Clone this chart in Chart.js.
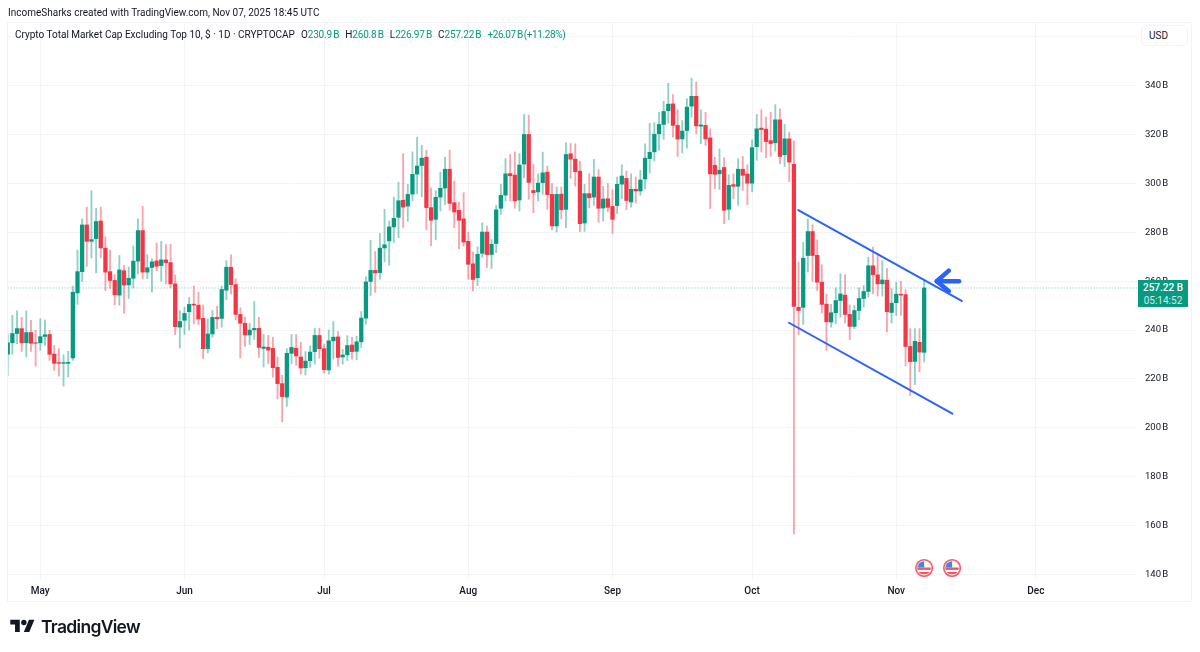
<!DOCTYPE html>
<html>
<head>
<meta charset="utf-8">
<title>Crypto Total Market Cap Excluding Top 10</title>
<script src="https://cdn.jsdelivr.net/npm/chart.js"></script>
<style>
	html, body { margin: 0; padding: 0; background: #fff; }
	body { width: 1200px; height: 652px; position: relative; overflow: hidden; font-family: Roboto, sans-serif; color: #131722; }
	canvas { position: absolute; left: 0; top: 0; }
	.abs { position: absolute; white-space: nowrap; }
	.credit { left: 8px; top: 5px; font-size: 10px; line-height: 15px; }
	.legend { left: 15px; top: 27px; font-size: 10px; line-height: 15px; }
	.legend b { font-weight: 400; color: #089981; letter-spacing: -.2px; word-spacing: -1px; }
	.legend b.change { letter-spacing: -.4px; }
	.legend i { font-style: normal; margin-left: 6px; }
	.usd { left: 1141px; top: 25px; width: 47px; height: 21px; box-sizing: border-box; background: #fff; border: 1px solid #f0f3fa; border-radius: 5px; font-size: 10px; line-height: 19px; padding-left: 7px; }
	.tag { left: 1138px; top: 280px; width: 50px; height: 27px; background: #089981; color: #fff; font-size: 10px; line-height: 13px; text-align: center; padding-top: 1px; box-sizing: border-box; font-weight: 500; }
	.tag span { display: block; opacity: .8; font-weight: 400; }
	.brand { left: 41px; top: 614px; font-family: Inter, sans-serif; font-size: 17.5px; line-height: 26px; font-weight: 600; letter-spacing: -0.7px; }
	.logo { left: 10px; top: 617px; }
</style>
</head>
<body>
<canvas id="chart" width="1200" height="652"></canvas>
<div class="abs credit">IncomeSharks created with TradingView.com, Nov 07, 2025 18:45 UTC</div>
<div class="abs legend">Crypto Total Market Cap Excluding Top 10, $ · 1D · CRYPTOCAP<i>O</i><b>230.9 B</b><i>H</i><b>260.8 B</b><i>L</i><b>226.97 B</b><i>C</i><b>257.22 B</b><i></i><b class="change">+26.07 B (+11.28%)</b></div>
<div class="abs usd">USD</div>
<div class="abs tag">257.22 B<span>05:14:52</span></div>
<svg class="abs logo" width="25" height="19" viewBox="0 0 36 28"><path fill="#131722" d="M14 22H7V11H0V4h14v18zM28 22h-8l7.5-18h8L28 22z"/><circle fill="#131722" cx="20" cy="8" r="4"/></svg>
<div class="abs brand">TradingView</div>
<script>
// day number counted from May 1, first candle is Apr 24
const firstDay = -7;

// values in billions, one entry per daily candle
const opens = [
	230.1,234.8,238.6,240.6,234.8,239.0,234.8,234.8,237.4,238.2,230.2,226.7,226.4,226.4,228.6,255.2,263.9,283.0,276.3,277.4,284.6,273.5,263.9,260.3,254.3,264.3,258.5,261.2,268.2,280.7,263.7,265.6,268.3,266.4,268.7,267.6,258.9,241.2,244.0,247.5,250.6,250.2,244.8,232.4,238.4,245.2,244.8,256.3,265.7,258.6,246.4,242.8,238.0,240.1,240.7,232.5,233.0,232.5,224.8,218.1,212.6,230.5,232.6,
	229.0,224.6,227.5,231.2,237.8,232.4,223.7,235.6,237.2,229.0,229.9,233.9,231.3,235.2,244.9,259.9,264.4,263.5,273.6,276.5,282.2,286.1,293.1,290.7,295.6,303.8,307.3,310.7,290.1,285.3,294.4,298.1,305.8,292.1,289.0,285.5,276.3,267.1,261.4,271.4,280.1,270.9,275.4,289.8,295.2,304.0,303.4,293.2,307.9,320.0,297.1,296.5,300.3,304.6,295.5,282.6,295.6,289.4,312.1,309.9,305.0,
	283.8,295.8,294.4,302.6,289.9,293.7,290.6,290.9,299.7,302.0,292.4,297.6,296.9,301.8,310.1,312.9,320.3,324.1,329.7,332.5,323.7,318.2,321.6,331.6,335.6,323.4,323.7,318.6,307.4,303.9,306.5,289.4,299.5,298.8,305.8,303.8,300.1,315.0,322.6,322.2,317.5,316.6,326.0,311.7,318.2,307.8,
	249.3,249.3,270.5,280.3,270.6,259.6,250.6,243.3,247.1,252.1,254.3,246.4,241.5,248.0,252.9,255.8,266.3,262.6,258.9,260.4,247.2,251.2,254.7,254.5,233.3,227.2,235.0,230.9
];
const highs = [
	238.5,246.0,247.9,245.2,247.9,244.0,239.9,244.6,244.1,239.9,233.7,232.4,229.9,231.3,258.0,272.7,285.5,290.3,297.0,289.8,290.3,278.2,272.7,262.7,270.5,266.5,265.8,274.4,285.5,290.6,270.9,269.1,275.6,276.3,275.0,275.1,262.6,248.0,249.4,253.3,258.0,255.5,250.3,244.6,248.0,249.7,258.0,268.4,270.8,261.0,249.1,245.3,242.8,251.7,245.2,238.2,237.8,237.1,229.0,221.5,232.4,238.2,238.2,
	235.0,231.2,233.6,240.7,240.8,234.3,240.0,243.5,239.4,232.1,237.7,237.0,237.5,247.6,261.8,276.7,272.1,279.6,289.4,284.6,294.4,300.5,312.2,299.6,312.9,318.9,315.6,313.5,298.2,296.9,304.6,310.7,313.6,301.0,292.4,296.2,280.1,272.0,274.0,283.9,282.6,277.1,291.0,299.6,310.1,311.8,312.9,312.2,328.2,327.9,307.7,303.9,312.8,307.1,299.9,298.5,298.5,316.6,316.3,316.2,309.1,
	299.6,303.9,309.8,305.6,298.8,299.9,297.4,302.6,307.6,305.0,303.9,302.6,305.3,316.2,324.6,324.8,329.1,333.6,340.9,336.3,330.2,325.7,334.6,343.0,341.4,330.1,329.1,322.3,310.7,314.1,310.5,303.5,303.9,310.1,311.0,307.6,317.8,328.2,330.2,327.1,329.1,332.2,330.5,324.1,320.9,317.4,
	267.8,275.9,285.4,283.1,276.9,266.7,254.8,250.5,257.3,263.0,262.7,250.3,250.1,257.3,258.2,269.8,273.9,271.2,268.4,265.3,256.9,259.6,260.0,256.5,240.6,240.6,240.6,260.8
];
const lows = [
	221.5,230.1,234.4,231.3,229.0,231.3,225.3,231.7,233.7,227.6,223.5,221.2,217.1,220.8,227.6,250.5,259.9,266.1,269.5,263.3,269.5,256.1,257.0,250.3,250.1,246.9,252.9,257.2,263.0,261.0,261.0,255.6,264.3,260.0,258.9,257.3,238.1,232.7,238.2,240.0,242.6,242.2,228.3,230.6,237.1,240.5,241.2,252.4,254.8,244.2,228.6,233.3,234.1,236.2,228.8,224.9,226.3,220.8,211.8,202.5,208.8,226.3,225.6,
	222.0,221.6,224.8,226.1,228.5,222.4,222.0,228.1,225.2,226.1,227.5,228.1,227.8,232.9,242.4,254.1,255.4,260.8,267.9,266.5,275.8,277.8,281.9,284.5,292.8,295.8,294.5,281.0,274.5,276.9,288.7,291.4,289.0,281.9,273.3,274.4,260.8,256.0,258.2,269.7,265.6,265.2,271.7,287.3,292.8,292.8,289.8,288.7,302.3,293.5,288.0,292.8,295.5,289.4,281.0,280.1,285.5,281.9,302.0,298.9,280.3,
	280.4,289.9,291.0,284.2,284.6,288.3,279.5,287.6,293.7,289.2,290.3,292.0,295.1,297.7,304.2,309.1,313.5,318.0,324.6,318.9,311.0,312.4,314.4,327.1,320.3,316.2,315.5,289.7,297.8,297.5,283.5,285.2,293.7,291.0,297.1,291.3,296.5,309.4,312.8,310.5,311.0,313.2,308.0,306.9,300.8,156.6,
	238.1,242.3,263.7,259.9,256.2,247.0,231.7,241.2,242.6,245.3,242.9,236.1,240.6,244.2,249.4,253.5,254.8,253.9,253.9,239.2,242.9,246.0,246.0,225.3,213.3,217.7,222.9,226.97
];
const closes = [
	234.8,238.6,240.6,234.8,239.0,234.6,234.6,237.3,238.1,230.1,226.4,226.4,226.7,226.8,255.5,263.9,283.0,276.3,277.0,284.4,273.6,263.7,260.3,254.4,264.6,258.4,261.2,268.2,280.7,263.7,265.5,267.9,266.1,268.7,267.6,258.9,241.4,243.5,246.8,250.5,250.2,244.5,232.4,238.4,245.2,244.6,256.6,265.7,258.6,246.4,242.8,238.0,240.0,240.7,232.9,233.1,231.8,224.6,218.1,212.8,230.5,232.9,229.4,
	224.5,227.3,231.0,237.8,232.4,223.8,235.6,237.1,228.8,229.8,233.7,231.2,235.2,244.9,259.7,264.4,263.4,273.5,274.9,282.2,285.7,292.9,290.3,295.5,303.7,307.1,310.3,290.1,284.9,294.3,298.0,305.8,291.8,288.3,284.9,276.0,266.9,260.7,271.0,280.1,270.9,275.1,289.2,295.1,303.9,303.1,292.8,307.5,320.0,300.4,296.2,300.1,304.3,295.4,282.6,295.5,289.2,311.8,309.9,304.8,283.5,
	295.8,294.1,302.6,289.8,293.6,290.2,285.3,299.6,303.0,293.0,297.6,296.9,301.4,310.3,312.7,320.1,324.1,329.4,332.4,323.7,318.1,321.4,331.2,335.6,323.5,323.9,318.2,303.9,303.7,305.4,289.0,299.2,298.8,305.8,303.3,300.1,314.6,322.3,322.0,317.1,316.3,326.0,311.0,318.2,308.7,249.7,
	248.0,269.4,280.3,270.5,259.6,250.5,243.4,247.1,252.1,254.8,246.4,241.5,248.0,252.9,255.8,266.3,262.6,258.9,260.5,247.5,251.0,254.7,254.3,233.3,227.1,235.4,231.0,257.22
];

const monthDays = [0, 31, 61, 92, 123, 153, 184, 214];
const monthLabels = ['May', 'Jun', 'Jul', 'Aug', 'Sep', 'Oct', 'Nov', 'Dec'];
const priceTicks = [140, 160, 180, 200, 220, 240, 260, 280, 300, 320, 340, 360];
const lastClose = 257.22;

// drawings on the chart, [day, price]
const upperChannel = [[162.94, 289.1], [198.07, 251.9]];
const lowerChannel = [[160.94, 243.0], [196.05, 205.8]];
const arrowShaft = [[192.7, 260.0], [197.5, 260.0]];
const arrowHead = [[195.3, 264.3], [192.7, 260.0], [195.3, 255.9]];
const eventDays = [190, 196];
const eventPrice = 142.7;

const UP = '#089981';
const DOWN = '#f23645';
const days = opens.map((_, i) => firstDay + i);
const toPoints = pts => pts.map(p => ({ x: p[0], y: p[1] }));

// small US flag badge for the economic events
function flagIcon() {
	const c = document.createElement('canvas');
	c.width = 20;
	c.height = 20;
	const g = c.getContext('2d');
	g.beginPath();
	g.arc(10, 10, 6.8, 0, Math.PI * 2);
	g.save();
	g.clip();
	g.fillStyle = '#fff';
	g.fillRect(0, 0, 20, 20);
	g.fillStyle = '#f7525f';
	g.fillRect(0, 9.5, 20, 2.4);
	g.fillRect(0, 14, 20, 2.4);
	g.fillStyle = '#2f8cf0';
	g.fillRect(3, 3, 7, 6.5);
	g.restore();
	g.beginPath();
	g.arc(10, 10, 8.3, 0, Math.PI * 2);
	g.strokeStyle = '#f7525f';
	g.lineWidth = 1.6;
	g.stroke();
	return c;
}

const frame = {
	id: 'frame',
	beforeDraw(chart) {
		const g = chart.ctx;
		// tighter gap in the "340 B" price labels
		g.wordSpacing = '-1px';
		g.save();
		g.strokeStyle = '#f0f3fa';
		g.lineWidth = 1;
		g.strokeRect(7.5, 22.5, 1184, 579);
		g.restore();
	}
};

const lineSet = (pts, color, width) => ({
	type: 'line',
	data: toPoints(pts),
	borderColor: color,
	borderWidth: width,
	pointRadius: 0,
	borderCapStyle: 'round',
	borderJoinStyle: 'round'
});

// keep the plot box fixed, labels must not push it around
const noLabelPadding = axis => {
	axis.paddingLeft = axis.paddingRight = axis.paddingTop = axis.paddingBottom = 0;
};

new Chart(document.getElementById('chart'), {
	data: {
		datasets: [
			lineSet(arrowHead, '#2962ff', 4.5),
			lineSet(arrowShaft, '#2962ff', 4.5),
			lineSet(upperChannel, '#2962ff', 2),
			lineSet(lowerChannel, '#2962ff', 2),
			{
				type: 'scatter',
				data: eventDays.map(d => ({ x: d, y: eventPrice })),
				pointStyle: flagIcon(),
				pointRadius: 10
			},
			{
				type: 'bar',
				grouped: false,
				data: days.map((d, i) => ({ x: d, y: [opens[i], closes[i]] })),
				backgroundColor: days.map((d, i) => closes[i] >= opens[i] ? UP : DOWN),
				barThickness: 3.6
			},
			{
				type: 'bar',
				grouped: false,
				data: days.map((d, i) => ({ x: d, y: [lows[i], highs[i]] })),
				backgroundColor: days.map((d, i) => closes[i] >= opens[i] ? 'rgba(8,153,129,.45)' : 'rgba(242,54,69,.45)'),
				barThickness: 1.2
			},
			{
				type: 'line',
				data: [{ x: -7, y: lastClose }, { x: 237, y: lastClose }],
				borderColor: 'rgba(8,153,129,.55)',
				borderWidth: 1,
				borderDash: [1, 2],
				pointRadius: 0
			}
		]
	},
	options: {
		responsive: false,
		animation: false,
		devicePixelRatio: 1,
		layout: { autoPadding: false, padding: { left: 8, top: 22, right: 8, bottom: 50 } },
		plugins: { legend: { display: false }, tooltip: { enabled: false } },
		scales: {
			x: {
				type: 'linear',
				min: -6.94,
				max: 235.75,
				offset: false,
				afterBuildTicks(axis) { axis.ticks = monthDays.map(v => ({ value: v })); },
				afterFit(axis) { axis.height = 23; noLabelPadding(axis); },
				grid: { color: '#f3f4f8', drawTicks: false, offset: false },
				border: { display: false },
				ticks: {
					autoSkip: false,
					maxRotation: 0,
					padding: 6,
					color: '#131722',
					font: { family: 'Roboto, sans-serif', size: 10, weight: 500 },
					callback: (v, i) => monthLabels[i]
				}
			},
			y: {
				type: 'linear',
				position: 'right',
				min: 138.2,
				max: 366,
				afterBuildTicks(axis) { axis.ticks = priceTicks.map(v => ({ value: v })); },
				afterFit(axis) { axis.width = 55; noLabelPadding(axis); },
				grid: { color: '#f3f4f8', drawTicks: false },
				border: { display: false },
				ticks: {
					padding: 8,
					color: '#131722',
					font: { family: 'Roboto, sans-serif', size: 9.5 },
					callback: v => v + ' B'
				}
			}
		}
	},
	plugins: [frame]
});
</script>
</body>
</html>
